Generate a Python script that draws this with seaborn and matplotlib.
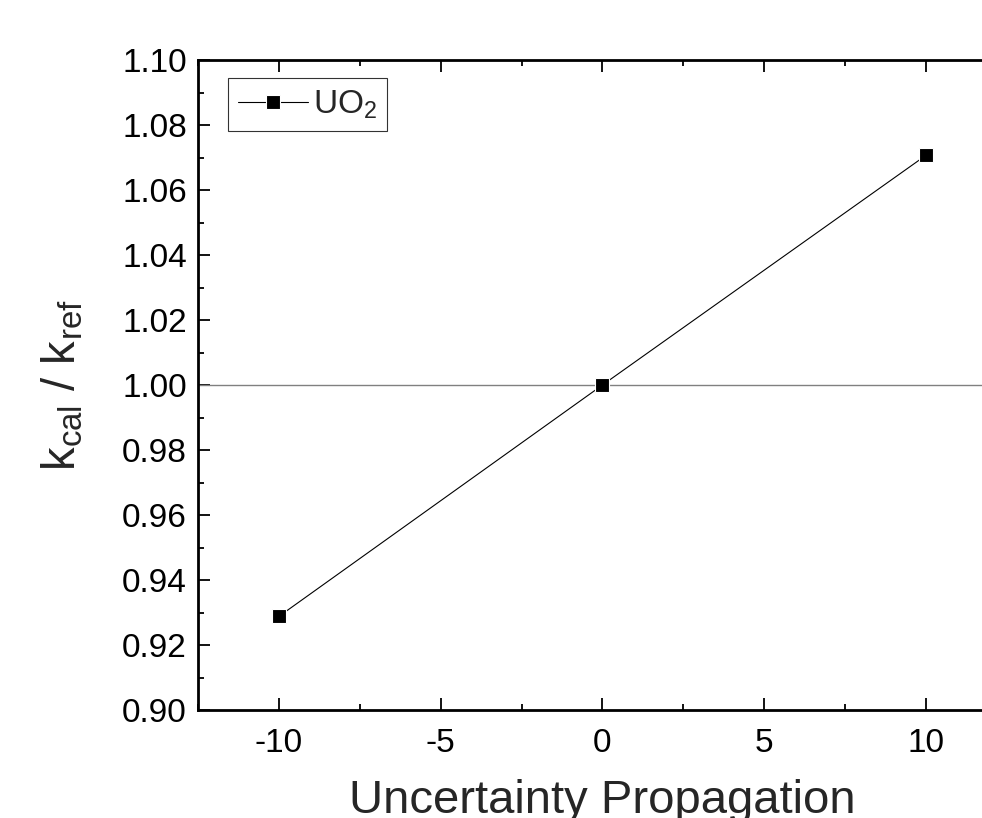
import numpy as np
import pandas as pd
import matplotlib
matplotlib.use("Agg")
import matplotlib.pyplot as plt
from matplotlib.ticker import MultipleLocator
import seaborn as sns

# Data
perturbation = [-10, 0, 10]
k_ratio = [0.9288, 1.0000, 1.0707]
series_name = "UO$_2$"

xticks = [-10, -5, 0, 5, 10]
yticks = [0.90, 0.92, 0.94, 0.96, 0.98, 1.00, 1.02, 1.04, 1.06, 1.08, 1.10]

df = pd.DataFrame({"x": perturbation, "k": k_ratio})

# Style
sns.set_theme(style="ticks")
plt.rcParams["font.family"] = ["Liberation Sans", "DejaVu Sans"]
plt.rcParams["mathtext.fontset"] = "custom"
plt.rcParams["mathtext.rm"] = "Liberation Sans"
plt.rcParams["mathtext.it"] = "Liberation Sans:italic"

fig = plt.figure(figsize=(9.82, 8.18), dpi=100)
ax = fig.add_axes([0.2016, 0.1320, 0.8238, 0.7946])

# Reference line at unity
ax.axhline(1.0, color="#808080", linewidth=1.0, zorder=1)

sns.lineplot(data=df, x="x", y="k", ax=ax, color="black", linewidth=0.8,
             marker="s", markersize=10.5, markeredgecolor="white",
             markeredgewidth=0.8, label=series_name, zorder=3)

ax.set_xlim(-12.5, 12.5)
ax.set_ylim(0.90, 1.10)
ax.set_xticks(xticks)
ax.set_xticklabels([str(v) for v in xticks])
ax.set_yticks(yticks)
ax.set_yticklabels([f"{v:.2f}" for v in yticks])
ax.xaxis.set_minor_locator(MultipleLocator(2.5))
ax.yaxis.set_minor_locator(MultipleLocator(0.01))

ax.tick_params(which="both", direction="in", top=True, right=True, width=1.3, colors="black")
ax.tick_params(which="major", length=8.5)
ax.tick_params(which="minor", length=4.5)
ax.tick_params(axis="x", which="major", labelsize=24, pad=13)
ax.tick_params(axis="y", which="major", labelsize=24, pad=8)

for spine in ax.spines.values():
    spine.set_linewidth(2.0)
    spine.set_color("black")

ax.set_xlabel("Uncertainty Propagation", fontsize=34, labelpad=14)
ax.set_ylabel(r"k$_{\mathrm{cal}}$ / k$_{\mathrm{ref}}$", fontsize=34, labelpad=26)

# Legend
leg = ax.legend(loc="upper left", bbox_to_anchor=(0.037, 0.972), borderaxespad=0,
                fontsize=24, frameon=True, fancybox=False, handlelength=2.1,
                handletextpad=0.15, borderpad=0.3)
leg.get_frame().set_edgecolor("black")
leg.get_frame().set_linewidth(0.8)

fig.savefig("out.png", dpi=100)
